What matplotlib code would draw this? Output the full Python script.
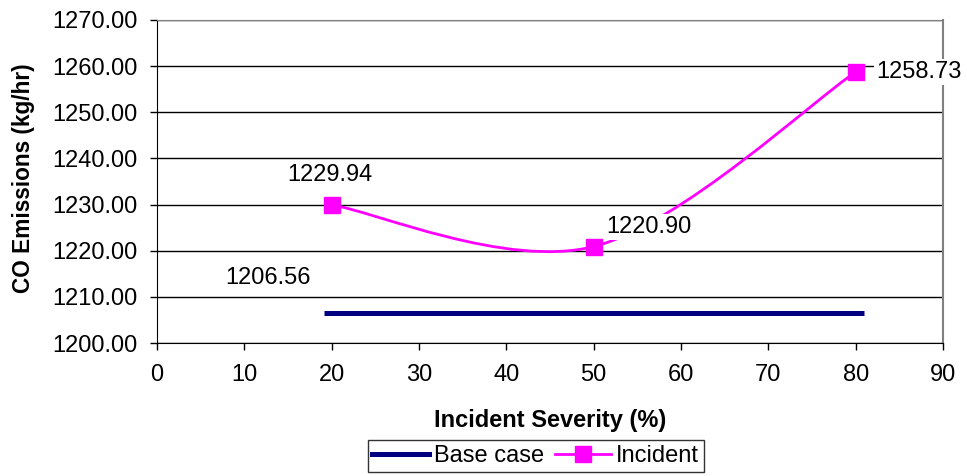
import numpy as np
import matplotlib
matplotlib.use("Agg")
import matplotlib.pyplot as plt
from matplotlib.path import Path
from matplotlib.patches import PathPatch
from matplotlib.lines import Line2D

# --- Data ---
severity = [20, 50, 80]
base_case = [1206.56, 1206.56, 1206.56]
incident = [1229.94, 1220.90, 1258.73]
x_ticks = list(range(0, 100, 10))
y_ticks = list(range(1200, 1280, 10))

NAVY = "#000080"
MAGENTA = "#FF00FF"
FS = 17

plt.rcParams["font.family"] = ["Liberation Sans", "DejaVu Sans"]


def smooth_path(xs, ys):
    # Excel-like smoothed line: cubic Bezier segments through the points
    pts = np.column_stack([xs, ys]).astype(float)
    verts = [pts[0]]
    codes = [Path.MOVETO]
    n = len(pts)
    for i in range(n - 1):
        p0 = pts[max(i - 1, 0)]
        p1 = pts[i]
        p2 = pts[i + 1]
        p3 = pts[min(i + 2, n - 1)]
        verts += [p1 + (p2 - p0) / 6, p2 - (p3 - p1) / 6, p2]
        codes += [Path.CURVE4] * 3
    return Path(verts, codes)


fig = plt.figure(figsize=(9.67, 4.76), dpi=100)
ax = fig.add_axes([0.1624, 0.2794, 0.8128, 0.6786])

# base case: thick navy line
ax.plot(severity, base_case, color=NAVY, lw=3.6, solid_capstyle="butt",
        marker="_", ms=12, mew=3.6, zorder=3)

# incident: smoothed magenta line with square markers
ax.add_patch(PathPatch(smooth_path(severity, incident), fill=False,
                       edgecolor=MAGENTA, lw=2, zorder=3))
ax.plot(severity, incident, ls="none", marker="s", ms=11, color=MAGENTA, zorder=4)

# data labels (white boxes, like the original)
box = dict(facecolor="white", edgecolor="none", pad=1.5)
ax.text(12.7, 1214.0, f"{base_case[0]:.2f}", fontsize=FS, ha="center", va="center", zorder=5)
ax.text(19.8, 1236.4, f"{incident[0]:.2f}", fontsize=FS, ha="center", va="center", zorder=5)
ax.text(56.3, 1225.2, f"{incident[1]:.2f}", fontsize=FS, ha="center", va="center",
        bbox=box, zorder=5)
ax.text(82.3, incident[2], f"{incident[2]:.2f}", fontsize=FS, ha="left", va="center",
        bbox=box, zorder=5, clip_on=False)

ax.set_xlim(0, 90)
ax.set_ylim(1200, 1270)
ax.set_xticks(x_ticks)
ax.set_yticks(y_ticks)
ax.set_yticklabels([f"{v:.2f}" for v in y_ticks])
ax.tick_params(labelsize=FS, length=5, width=1, direction="out", color="black")
ax.tick_params(axis="x", pad=10)
ax.tick_params(axis="y", pad=9)

ax.grid(axis="y", color="black", lw=1)
ax.set_axisbelow(True)
for s in ["left", "bottom"]:
    ax.spines[s].set_color("black")
for s in ["top", "right"]:
    ax.spines[s].set_color("#808080")
ax.spines["right"].set_linewidth(1.5)

fig.text(550 / 967, 1 - 421 / 476, "Incident Severity (%)", fontsize=FS,
         fontweight="bold", ha="center", va="center")
fig.text(24 / 967, 1 - 178 / 476, "CO Emissions (kg/hr)", fontsize=16.3,
         fontweight="bold", ha="center", va="center", rotation=90)

handles = [
    Line2D([], [], color=NAVY, lw=3.6),
    Line2D([], [], color=MAGENTA, lw=2, marker="s", ms=11),
]
leg = fig.legend(handles, ["Base case", "Incident"], loc="center",
                 bbox_to_anchor=(0.554, 0.042), ncol=2, fontsize=FS,
                 frameon=True, fancybox=False, edgecolor="black",
                 handlelength=2.4, handletextpad=0.2, columnspacing=0.45,
                 borderpad=0.2, borderaxespad=0)
leg.get_frame().set_linewidth(1)

fig.savefig("out.png", dpi=100)
